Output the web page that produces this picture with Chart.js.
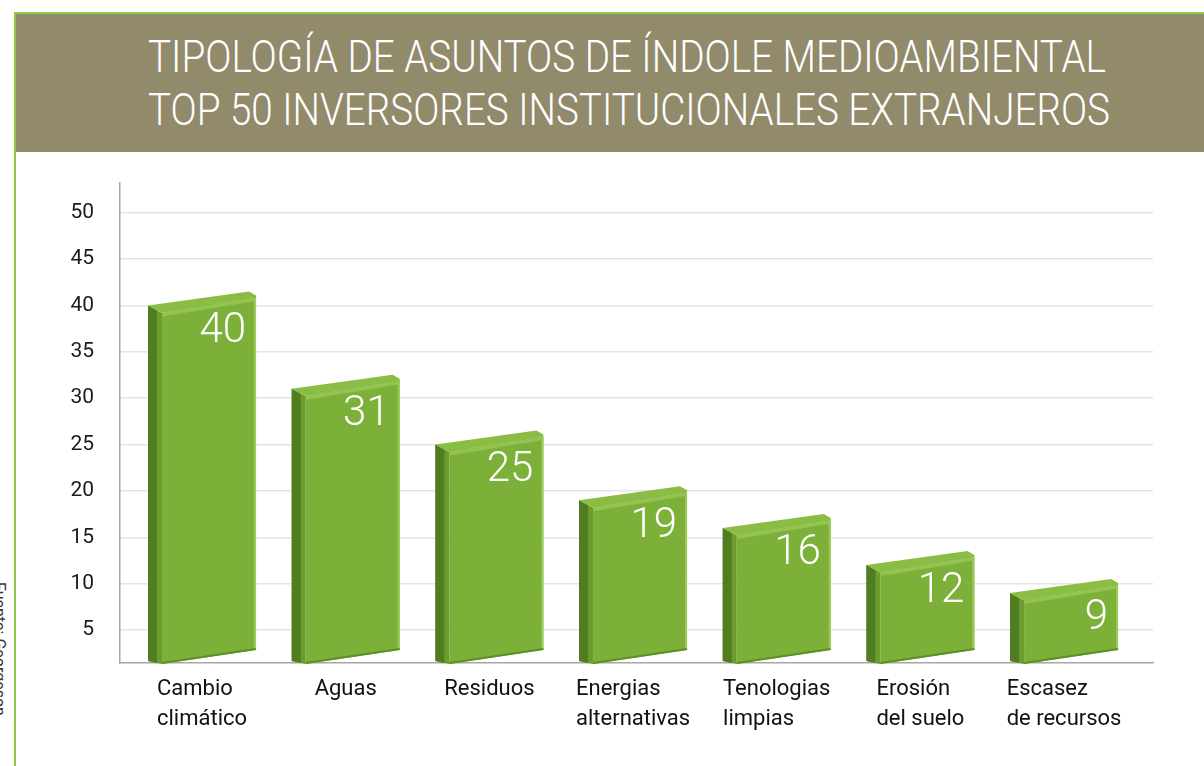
<!DOCTYPE html>
<html>
<head>
<meta charset="utf-8">
<script src="https://cdn.jsdelivr.net/npm/chart.js@4/dist/chart.umd.min.js"></script>
<style>
  html, body { margin: 0; padding: 0; background: #fff; }
  #page { position: relative; width: 1204px; height: 766px; overflow: hidden; }
  #frame { position: absolute; left: 14px; top: 12px; right: 0; bottom: 0;
           border-left: 2px solid #8cc84b; border-top: 2px solid #8cc84b; }
  #band { position: absolute; left: 16px; top: 14px; width: 1188px; height: 138px; background: #918a6b; }
  .tline { position: absolute; left: 148px; color: #fff; font-family: Roboto, sans-serif; font-weight: 300;
           font-size: 44px; line-height: 44px; white-space: nowrap; transform-origin: 0 0; }
  #src { position: absolute; left: -3px; top: 582px; font-family: Roboto, sans-serif; font-size: 16px; color: #333;
         transform-origin: 0 0; transform: rotate(90deg) translateY(-12px); white-space: nowrap; }
  #chart { position: absolute; left: 0; top: 0; }
</style>
</head>
<body>
<div id="page">
  <div id="frame"></div>
  <div id="band"></div>
  <div class="tline" id="t1" style="top:35px" data-w="958">TIPOLOGÍA DE ASUNTOS DE ÍNDOLE MEDIOAMBIENTAL</div>
  <div class="tline" id="t2" style="top:88px" data-w="962">TOP 50 INVERSORES INSTITUCIONALES EXTRANJEROS</div>
  <div id="src">Fuente: Georgeson</div>
  <canvas id="chart" width="1204" height="766"></canvas>
</div>
<script>
// Data
const categories = [
  ['Cambio', 'climático'],
  ['Aguas'],
  ['Residuos'],
  ['Energias', 'alternativas'],
  ['Tenologias', 'limpias'],
  ['Erosión', 'del suelo'],
  ['Escasez', 'de recursos']
];
const values = [40, 31, 25, 19, 16, 12, 9];
const yTicks = [5, 10, 15, 20, 25, 30, 35, 40, 45, 50];

// fit title lines to their width
document.querySelectorAll('.tline').forEach(el => {
  const w = el.getBoundingClientRect().width;
  el.style.transform = 'scaleX(' + (parseFloat(el.dataset.w) / w) + ')';
});

// 3D-looking bars drawn from the bar elements
const bars3d = {
  id: 'bars3d',
  afterDatasetsDraw(chart) {
    const ctx = chart.ctx;
    const base = chart.chartArea.bottom;
    const meta = chart.getDatasetMeta(0);
    const poly = (pts, color) => {
      ctx.beginPath();
      ctx.moveTo(pts[0][0], pts[0][1]);
      for (let k = 1; k < pts.length; k++) ctx.lineTo(pts[k][0], pts[k][1]);
      ctx.closePath();
      ctx.fillStyle = color;
      ctx.fill();
    };
    ctx.save();
    meta.data.forEach((el, i) => {
      const cx = el.x, py = el.y, half = el.width / 2;
      const sl = cx - half, fl = cx - half + 14, fr = cx + half;
      // front face
      poly([[fl, py + 7.5], [fr, py - 7.5], [fr, base - 13], [fl, base + 1]], '#7db038');
      // front bevel (top and right)
      poly([[fl, py + 7.5], [fr, py - 7.5], [fr, py - 4.5], [fl, py + 11]], '#93c452');
      poly([[fr - 2, py - 7], [fr, py - 7.5], [fr, base - 13], [fr - 2, base - 13]], '#9ccb5c');
      // bottom shadow edge
      poly([[fl, base - 1], [fr, base - 15], [fr, base - 13], [fl, base + 1]], '#5d8f26');
      // left side
      poly([[sl, py], [fl, py + 7.5], [fl, base + 1], [sl, base - 2]], '#6b9c2e');
      poly([[sl, py], [sl + 9, py + 5], [sl + 9, base], [sl, base - 2]], '#4f7d1f');
      // top face
      poly([[sl, py], [fr - 7, py - 14], [fr, py - 10], [fr, py - 7.5], [fl, py + 7.5]], '#8bbd45');
      // value label
      ctx.fillStyle = '#ffffff';
      ctx.font = '300 42px Roboto, sans-serif';
      ctx.textAlign = 'right';
      ctx.textBaseline = 'top';
      ctx.fillText(String(values[i]), fr - 10, py + 5);
    });
    // category labels, lines left-aligned in a centred block
    const xs = chart.scales.x;
    ctx.font = '22px Roboto, sans-serif';
    ctx.fillStyle = '#111';
    ctx.textAlign = 'left';
    ctx.textBaseline = 'middle';
    categories.forEach((lines, i) => {
      const cx = xs.getPixelForValue(i);
      const w = Math.max(...lines.map(t => ctx.measureText(t).width));
      lines.forEach((t, j) => ctx.fillText(t, cx - w / 2, base + 26 + j * 30));
    });
    ctx.restore();
  }
};

new Chart(document.getElementById('chart'), {
  type: 'bar',
  data: {
    datasets: [{
      data: values.map((v, i) => ({ x: i, y: v })),
      backgroundColor: 'rgba(0,0,0,0)',
      barThickness: 108
    }]
  },
  options: {
    responsive: false,
    animation: false,
    events: [],
    layout: { padding: { top: 183, right: 51, left: 0, bottom: 0 } },
    plugins: { legend: { display: false }, tooltip: { enabled: false } },
    scales: {
      x: {
        type: 'linear',
        offset: false,
        min: -0.571,
        max: 6.619,
        grid: { display: false },
        border: { display: true, color: '#a6a6a6', width: 1.5 },
        ticks: { display: false },
        afterFit(s) { s.height = 103; }
      },
      y: {
        min: 1.44,
        max: 53.2,
        afterBuildTicks(s) { s.ticks = yTicks.map(v => ({ value: v })); },
        grid: { color: '#e4e4e4', lineWidth: 1.5, drawTicks: false },
        border: { display: true, color: '#a6a6a6', width: 1.5 },
        ticks: { padding: 26, color: '#1b1b1b', font: { family: 'Roboto', size: 21 } },
        afterFit(s) { s.width = 120; }
      }
    }
  },
  plugins: [bars3d]
});
</script>
</body>
</html>
